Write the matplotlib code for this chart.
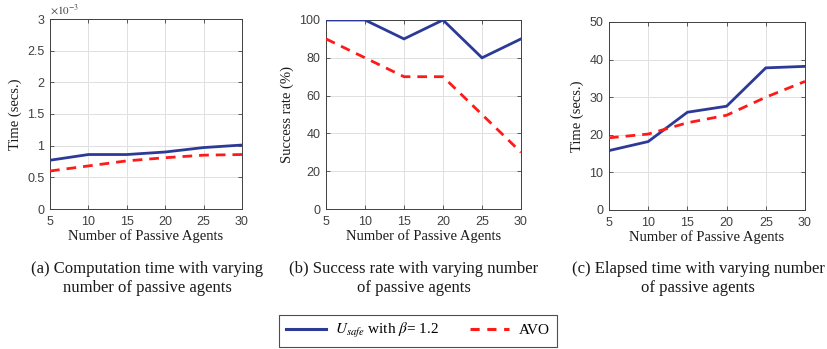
import matplotlib
matplotlib.use("Agg")
import matplotlib.pyplot as plt
from matplotlib.lines import Line2D

# Number of passive agents
agents = [5, 10, 15, 20, 25, 30]

# (a) computation time (seconds)
comp_usafe = [0.77e-3, 0.86e-3, 0.86e-3, 0.90e-3, 0.97e-3, 1.01e-3]
comp_avo = [0.60e-3, 0.68e-3, 0.76e-3, 0.81e-3, 0.85e-3, 0.86e-3]

# (b) success rate (%)
succ_usafe = [100, 100, 90, 100, 80, 90]
succ_avo = [90, 80, 70, 70, 50, 30]

# (c) elapsed time (seconds)
elap_usafe = [15.8, 18.2, 26.0, 27.6, 37.8, 38.2]
elap_avo = [19.2, 20.2, 23.2, 25.2, 30.0, 34.2]

captions = [
    "(a) Computation time with varying\nnumber of passive agents",
    "(b) Success rate with varying number\nof passive agents",
    "(c) Elapsed time with varying number\nof passive agents",
]

BLUE = "#2b3a97"
RED = "#ff1a1a"
SERIF = ["Liberation Serif", "DejaVu Serif"]
SANS = ["Liberation Sans", "DejaVu Sans"]

plt.rcParams["font.family"] = SANS
plt.rcParams["mathtext.fontset"] = "stix"

W, H = 828, 349
fig = plt.figure(figsize=(W / 100, H / 100), dpi=100)

boxes = [
    (50, 19, 242, 209),
    (326, 20, 521, 209),
    (609, 22, 805, 210),
]

def mk_ax(b):
    l, t, r, btm = b
    return fig.add_axes([l / W, 1 - btm / H, (r - l) / W, (btm - t) / H])

panels = [
    (comp_usafe, comp_avo, (0, 3e-3), [0, 0.5e-3, 1e-3, 1.5e-3, 2e-3, 2.5e-3, 3e-3],
     ["0", "0.5", "1", "1.5", "2", "2.5", "3"], "Time (secs.)"),
    (succ_usafe, succ_avo, (0, 100), [0, 20, 40, 60, 80, 100],
     ["0", "20", "40", "60", "80", "100"], "Success rate (%)"),
    (elap_usafe, elap_avo, (0, 50), [0, 10, 20, 30, 40, 50],
     ["0", "10", "20", "30", "40", "50"], "Time (secs.)"),
]

centers = [147, 414, 698]

for i, (b, (u, a, ylim, yt, ytl, ylab)) in enumerate(zip(boxes, panels)):
    ax = mk_ax(b)
    ax.plot(agents, u, color=BLUE, lw=2.0, solid_joinstyle="miter", zorder=3)
    ax.plot(agents, a, color=RED, lw=2.0, ls=(0, (3.5, 2.5)), zorder=3)
    ax.set_xlim(5, 30)
    ax.set_ylim(*ylim)
    ax.set_xticks(agents)
    ax.set_yticks(yt)
    ax.set_yticklabels(ytl)
    ax.grid(True, color="#e0e0e0", lw=0.7)
    ax.set_axisbelow(True)
    ax.tick_params(labelsize=9, colors="#404040", direction="in", length=3,
                   width=0.6, top=True, right=True)
    ax.tick_params(axis="x", pad=5)
    ax.tick_params(axis="y", pad=4)
    for s in ax.spines.values():
        s.set_color("#404040")
        s.set_linewidth(0.7)
    ax.set_xlabel("Number of Passive Agents", family=SERIF, fontsize=10.5,
                  color="#1a1a1a", labelpad=1)
    ax.set_ylabel(ylab, family=SERIF, fontsize=10.5, color="#1a1a1a", labelpad=4)
    fig.text(centers[i] / W, 1 - 278.5 / H, captions[i], family=SERIF, fontsize=12,
             ha="center", va="center", linespacing=1.28, color="#1a1a1a")
    if i == 0:
        ax.text(0.0, 1.01, r"$\times10^{-3}$", transform=ax.transAxes,
                fontsize=8, color="#404040", ha="left", va="bottom",
                family=SANS)

handles = [
    Line2D([], [], color=BLUE, lw=2.2),
    Line2D([], [], color=RED, lw=2.2, ls=(0, (3, 2.5))),
]
labels = [r"$U_{safe}$ with $\beta$= 1.2", "AVO"]
leg = fig.legend(handles, labels, loc="center", bbox_to_anchor=(418 / W, 1 - 331 / H),
                 ncol=2, frameon=True, fancybox=False, edgecolor="#222222",
                 prop={"family": SERIF, "size": 11}, handlelength=2.6,
                 columnspacing=2.0, borderpad=0.45, handletextpad=0.6)
leg.get_frame().set_linewidth(0.8)

fig.savefig("out.png", dpi=100, facecolor="white")
